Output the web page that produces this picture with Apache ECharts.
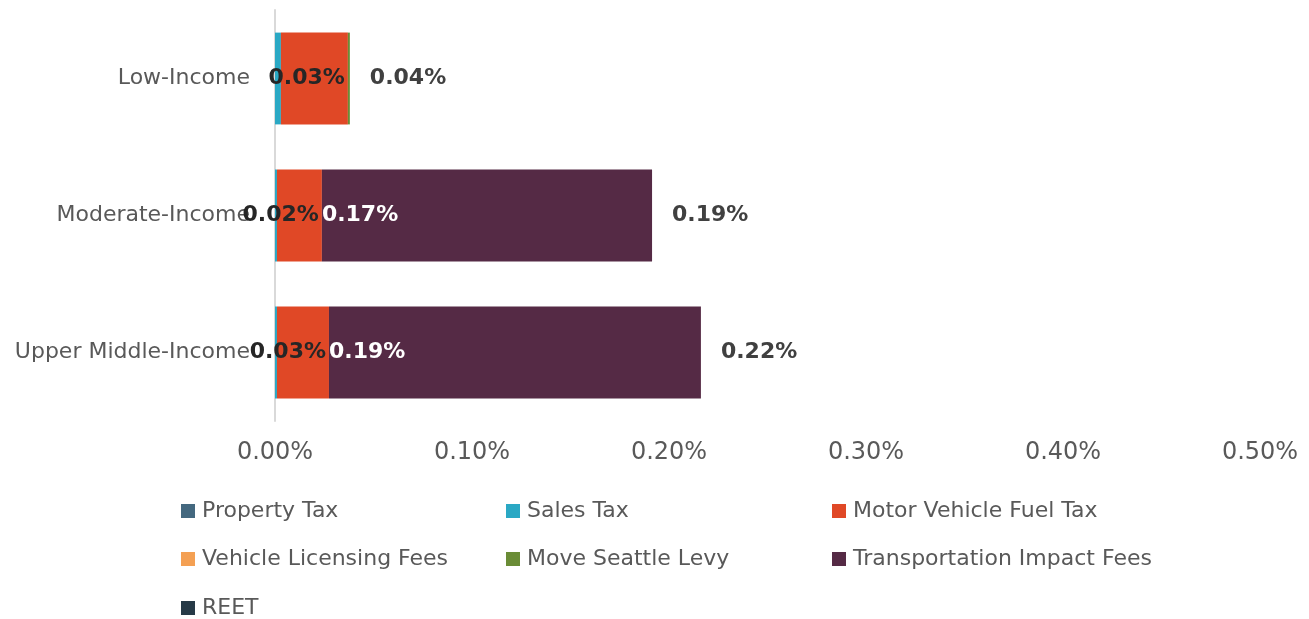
<!DOCTYPE html>
<html>
<head>
<meta charset="utf-8">
<script src="https://cdn.jsdelivr.net/npm/echarts@6/dist/echarts.min.js"></script>
<style>
  html, body { margin: 0; padding: 0; background: #fff; }
  #chart { width: 1309px; height: 619px; }
</style>
</head>
<body>
<div id="chart"></div>
<script>
// values are in percent
const categories = ['Upper Middle-Income', 'Moderate-Income', 'Low-Income'];
const propertyTax = [0, 0, 0];
const salesTax = [0.001, 0.001, 0.003];
const fuelTax = [0.0264, 0.0228, 0.034];
const licensingFees = [0, 0, 0];
const moveSeattle = [0, 0, 0.001];
const impactFees = [0.1888, 0.1676, 0];
const reet = [0, 0, 0];
const xTicks = [0, 0.1, 0.2, 0.3, 0.4, 0.5];

const font = '"DejaVu Sans", sans-serif';
const pct = v => v.toFixed(2) + '%';

const seriesDefs = [
    { name: 'Property Tax', data: propertyTax, color: '#44687f' },
    { name: 'Sales Tax', data: salesTax, color: '#2aa8c4' },
    { name: 'Motor Vehicle Fuel Tax', data: fuelTax, color: '#e04826' },
    { name: 'Vehicle Licensing Fees', data: licensingFees, color: '#f4a053' },
    { name: 'Move Seattle Levy', data: moveSeattle, color: '#6a8c36' },
    { name: 'Transportation Impact Fees', data: impactFees, color: '#552a45' },
    { name: 'REET', data: reet, color: '#263a47' }
];

const totals = categories.map((c, i) => seriesDefs.reduce((s, d) => s + d.data[i], 0));

const series = seriesDefs.map(d => {
    const s = {
        name: d.name,
        type: 'bar',
        stack: 'all',
        barWidth: '67%',
        data: d.data,
        itemStyle: { color: d.color },
        label: { show: false }
    };
    if (d.name === 'Motor Vehicle Fuel Tax') {
        s.label = {
            show: true, position: 'insideRight', distance: 3,
            formatter: p => p.value > 0 ? pct(p.value) : '',
            color: '#262626', fontFamily: font, fontWeight: 'bold', fontSize: 22
        };
    }
    if (d.name === 'Transportation Impact Fees') {
        s.label = {
            show: true, position: 'insideLeft', distance: 0,
            formatter: p => p.value > 0 ? pct(p.value) : '',
            color: '#ffffff', fontFamily: font, fontWeight: 'bold', fontSize: 22
        };
    }
    return s;
});

series.push({
    name: 'Total',
    type: 'bar',
    barWidth: '67%',
    barGap: '-100%',
    data: totals,
    silent: true,
    z: 1,
    itemStyle: { color: 'rgba(0,0,0,0)' },
    label: {
        show: true, position: 'right', distance: 20,
        formatter: p => pct(p.value),
        color: '#404040', fontFamily: font, fontWeight: 'bold', fontSize: 22
    }
});

// one legend per item to get the 3-column grid
const legendPos = [
    [181, 500], [506, 500], [832, 500],
    [181, 548], [506, 548], [832, 548],
    [181, 597]
];
const legends = seriesDefs.map((d, i) => ({
    data: [d.name],
    left: legendPos[i][0],
    top: legendPos[i][1],
    padding: 0,
    itemWidth: 14,
    itemHeight: 14,
    itemGap: 0,
    icon: 'rect',
    textStyle: { fontFamily: font, fontSize: 22, color: '#595959', padding: [0, 0, 0, 2] }
}));

const chart = echarts.init(document.getElementById('chart'));
chart.setOption({
    animation: false,
    textStyle: { fontFamily: font },
    grid: { left: 275, right: 49, top: 10, height: 411, containLabel: false },
    legend: legends,
    xAxis: {
        type: 'value',
        min: 0,
        max: 0.5,
        interval: 0.1,
        axisLine: { show: false },
        axisTick: { show: false },
        splitLine: { show: false },
        axisLabel: {
            margin: 20,
            fontSize: 24,
            color: '#595959',
            fontFamily: font,
            formatter: v => xTicks.includes(+v.toFixed(2)) ? pct(v) : ''
        }
    },
    yAxis: {
        type: 'category',
        data: categories,
        axisLine: { show: true, lineStyle: { color: '#d9d9d9', width: 2 } },
        axisTick: { show: false },
        axisLabel: { margin: 25, fontSize: 22, color: '#595959', fontFamily: font }
    },
    series: series
});
</script>
</body>
</html>
